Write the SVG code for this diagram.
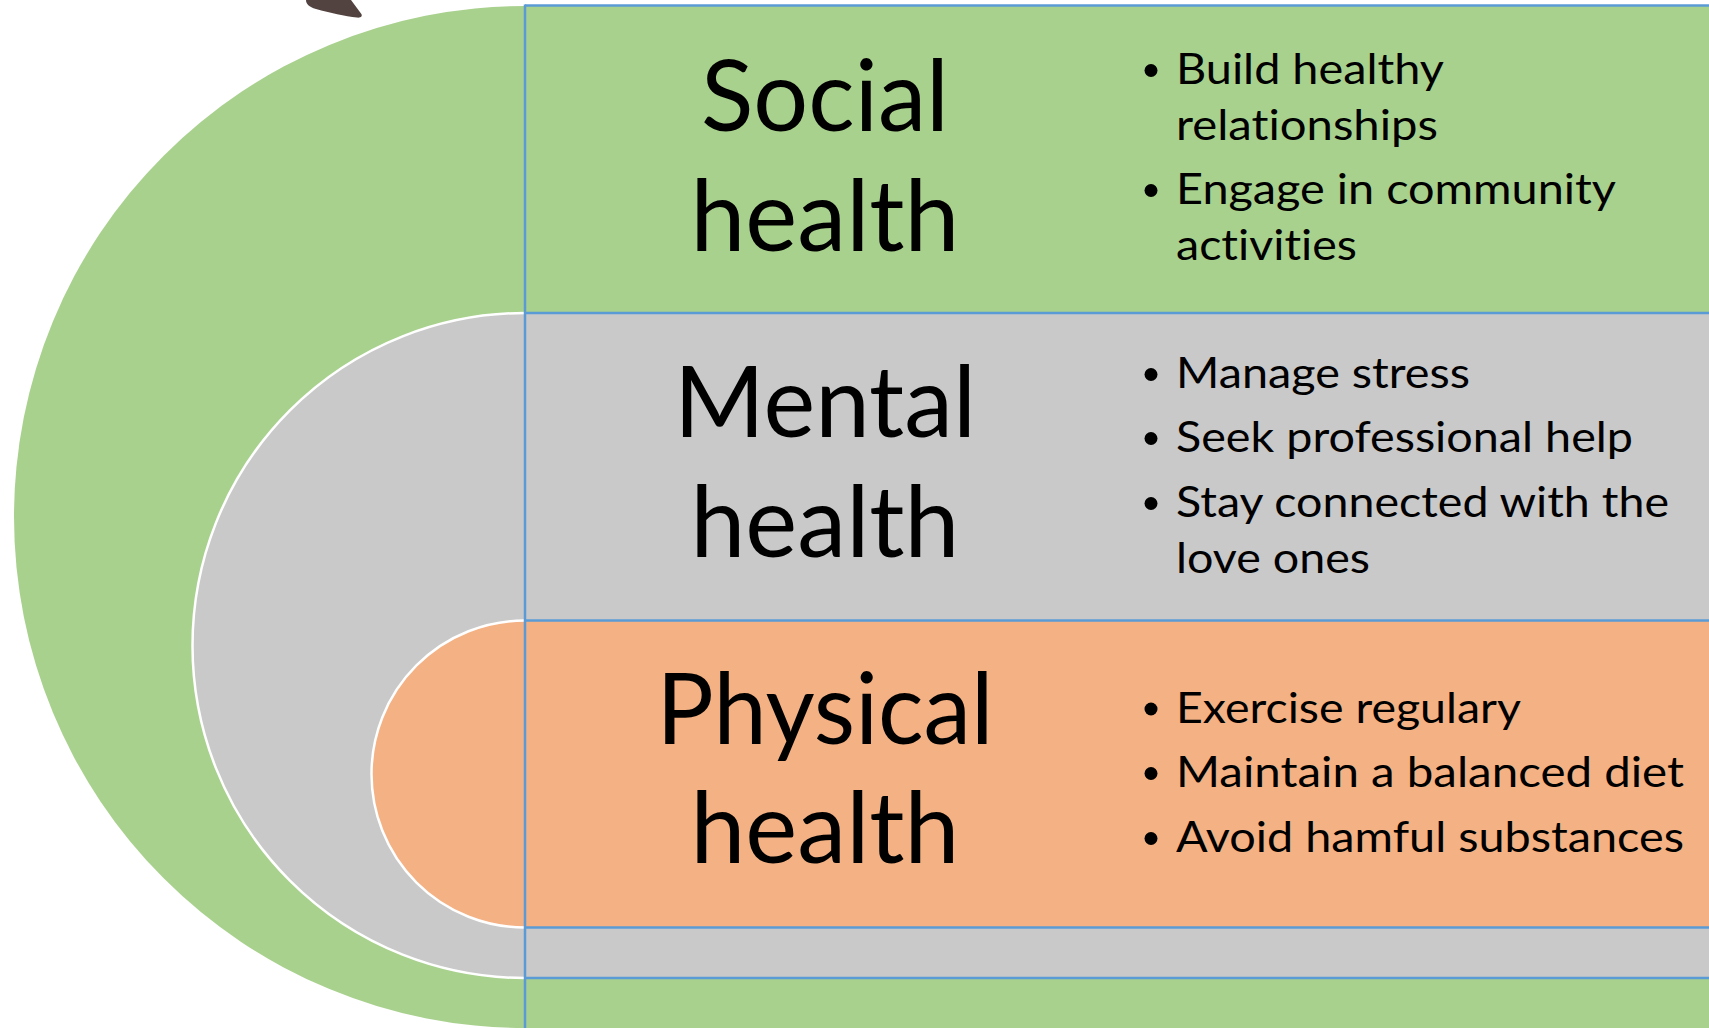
<svg xmlns="http://www.w3.org/2000/svg" width="1709" height="1028" viewBox="0 0 1709 1028">
<style>
.title{font-family:Lato,"Open Sans","Liberation Sans",sans-serif;font-size:98px;fill:#000;text-anchor:middle;font-variant-ligatures:none}
.item{font-family:Lato,"Open Sans","Liberation Sans",sans-serif;font-size:43px;fill:#000;font-variant-ligatures:none}
.bullet{fill:#000}
.arc{stroke:#FFFFFF;stroke-width:2.5}
.div{stroke:#5B9BD5;stroke-width:2.5;fill:none}
.green{fill:#A9D18E}
.gray{fill:#C9C9C9}
.orange{fill:#F4B183}
</style>
<rect width="1709" height="1028" fill="#FFFFFF"/>
<path d="M306,0 C306,4 309,7 316,9 C330,13 345,16 357,17.6 C361,18 363,16 361,13.5 L351,0 Z" fill="#524340"/>
<g id="node-social">
<path class="green" d="M525,6 A511,511 0 0 0 525,1028 Z"/>
<rect class="green" x="525" y="6" width="1184" height="1022"/>
<text class="title" x="825" y="131" textLength="248" lengthAdjust="spacingAndGlyphs">Social</text>
<text class="title" x="825" y="251" textLength="269" lengthAdjust="spacingAndGlyphs">health</text>
<circle class="bullet" cx="1151" cy="70.5" r="6.5"/>
<text class="item" x="1176" y="84" textLength="268" lengthAdjust="spacingAndGlyphs">Build healthy</text>
<text class="item" x="1176" y="139.5" textLength="262" lengthAdjust="spacingAndGlyphs">relationships</text>
<circle class="bullet" cx="1151" cy="190.5" r="6.5"/>
<text class="item" x="1176" y="204" textLength="440" lengthAdjust="spacingAndGlyphs">Engage in community</text>
<text class="item" x="1176" y="260" textLength="181" lengthAdjust="spacingAndGlyphs">activities</text>
</g>
<g id="node-mental">
<path class="gray arc" d="M525,313 A332.5,332.5 0 0 0 525,978"/>
<rect class="gray" x="525" y="313" width="1184" height="665"/>
<text class="title" x="825" y="437" textLength="302" lengthAdjust="spacingAndGlyphs">Mental</text>
<text class="title" x="825" y="557" textLength="269" lengthAdjust="spacingAndGlyphs">health</text>
<circle class="bullet" cx="1151" cy="374.5" r="6.5"/>
<text class="item" x="1176" y="388" textLength="294" lengthAdjust="spacingAndGlyphs">Manage stress</text>
<circle class="bullet" cx="1151" cy="438.5" r="6.5"/>
<text class="item" x="1176" y="452" textLength="457" lengthAdjust="spacingAndGlyphs">Seek professional help</text>
<circle class="bullet" cx="1151" cy="503.5" r="6.5"/>
<text class="item" x="1176" y="517" textLength="493" lengthAdjust="spacingAndGlyphs">Stay connected with the</text>
<text class="item" x="1176" y="573" textLength="194" lengthAdjust="spacingAndGlyphs">love ones</text>
</g>
<g id="node-physical">
<path class="orange arc" d="M525,620.5 A153.5,153.5 0 0 0 525,927.5"/>
<rect class="orange" x="525" y="620.5" width="1184" height="307"/>
<text class="title" x="825" y="744" textLength="337" lengthAdjust="spacingAndGlyphs">Physical</text>
<text class="title" x="825" y="863" textLength="269" lengthAdjust="spacingAndGlyphs">health</text>
<circle class="bullet" cx="1151" cy="709" r="6.5"/>
<text class="item" x="1176" y="722.5" textLength="345" lengthAdjust="spacingAndGlyphs">Exercise regulary</text>
<circle class="bullet" cx="1151" cy="773.5" r="6.5"/>
<text class="item" x="1176" y="787" textLength="508" lengthAdjust="spacingAndGlyphs">Maintain a balanced diet</text>
<circle class="bullet" cx="1151" cy="838.5" r="6.5"/>
<text class="item" x="1176" y="852" textLength="508" lengthAdjust="spacingAndGlyphs">Avoid hamful substances</text>
</g>
<g id="connectors">
<line class="div" x1="525" y1="5.5" x2="1709" y2="5.5"/>
<line class="div" x1="525" y1="313" x2="1709" y2="313"/>
<line class="div" x1="525" y1="620.5" x2="1709" y2="620.5"/>
<line class="div" x1="525" y1="927.5" x2="1709" y2="927.5"/>
<line class="div" x1="525" y1="978" x2="1709" y2="978"/>
<line class="div" x1="525" y1="4.5" x2="525" y2="1028"/>
</g>
</svg>
